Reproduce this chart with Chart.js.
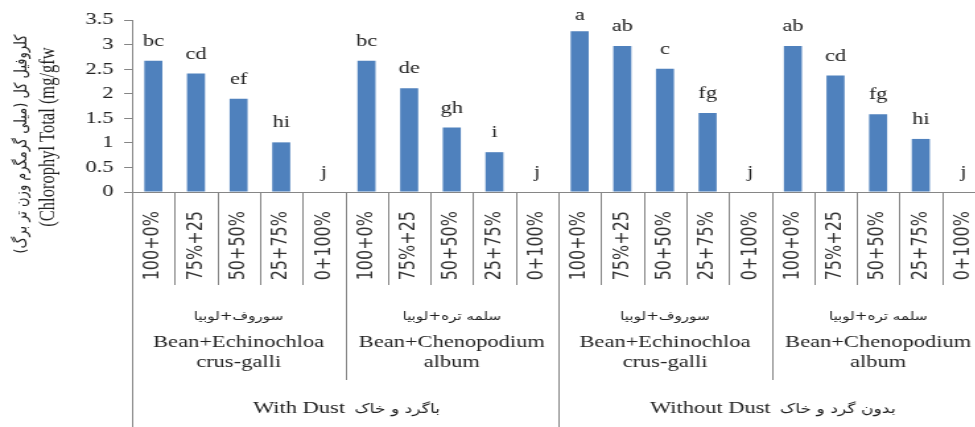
<!DOCTYPE html>
<html>
<head>
<meta charset="utf-8">
<script src="https://cdn.jsdelivr.net/npm/chart.js@4/dist/chart.umd.min.js"></script>
<style>
  html, body { margin: 0; padding: 0; background: #fff; overflow: hidden; width: 975px; height: 427px; }
  /* the drawing surface is widened horizontally, giving the broad lettering of the figure */
  #wrap { position: absolute; left: 0; top: 0; width: 746px; height: 427px; transform: scaleX(1.32); transform-origin: 0 0; }
</style>
</head>
<body>
<div id="wrap"><canvas id="c"></canvas></div>
<script>
// Mixture ratios (bean + weed) shown on every bar
const treatments = ['100+0%', '75%+25', '50+50%', '25+75%', '0+100%'];

// Weed pair labels (Persian line, then the two English lines)
const weedPairsFa = ['سوروف+لوبیا', 'سلمه تره+لوبیا'];
const weedPairsEn = [['Bean+Echinochloa', 'crus-galli'], ['Bean+Chenopodium', 'album']];

// Dust condition labels
const dustEn = ['With Dust', 'Without Dust'];
const dustFa = ['باگرد و خاک', 'بدون گرد و خاک'];

// Total chlorophyll (mg/g fresh weight)
const dustEchinochloa   = [2.67, 2.41, 1.90, 1.01, 0];
const dustChenopodium   = [2.67, 2.11, 1.31, 0.81, 0];
const cleanEchinochloa  = [3.27, 2.97, 2.51, 1.61, 0];
const cleanChenopodium  = [2.97, 2.37, 1.58, 1.08, 0];

// Mean separation letters
const dustEchinochloaLetters  = ['bc', 'cd', 'ef', 'hi', 'j'];
const dustChenopodiumLetters  = ['bc', 'de', 'gh', 'i', 'j'];
const cleanEchinochloaLetters = ['a', 'ab', 'c', 'fg', 'j'];
const cleanChenopodiumLetters = ['ab', 'cd', 'fg', 'hi', 'j'];

// Value axis ticks
const yTickValues = [0, 0.5, 1, 1.5, 2, 2.5, 3, 3.5];
const yTickLabels = ['0', '0.5', '1', '1.5', '2', '2.5', '3', '3.5'];

// Axis titles
const yTitleFa = 'کلروفیل کل (میلی گرمگرم وزن تر برگ)';
const yTitleEn = '(Chlorophyl Total (mg/gfw';

const labels = [...treatments, ...treatments, ...treatments, ...treatments];
const values = [...dustEchinochloa, ...dustChenopodium, ...cleanEchinochloa, ...cleanChenopodium];
const letters = [...dustEchinochloaLetters, ...dustChenopodiumLetters, ...cleanEchinochloaLetters, ...cleanChenopodiumLetters];

const SERIF = "'Liberation Serif', 'Times New Roman', serif";
const FA = "'DejaVu Sans', sans-serif";
const LINE = '#868686';
const INK = '#222';

// split a Persian label into words and separators
function tokens(t) { return t.split(/([ +()])/).filter(s => s.length); }

// words laid out from right to left, brackets mirrored
function wordsRightToLeft(t) {
  const swap = { '(': ')', ')': '(' };
  return tokens(t).reverse().map(s => swap[s] || s);
}

function tokenWidth(ctx, list) {
  return list.reduce((w, s) => w + ctx.measureText(s).width, 0);
}

// draws the tokens centred on (cx, cy), left to right
function drawTokens(ctx, list, cx, cy) {
  let x = cx - tokenWidth(ctx, list) / 2;
  ctx.textAlign = 'left';
  for (const s of list) {
    ctx.fillText(s, x, cy);
    x += ctx.measureText(s).width;
  }
  ctx.textAlign = 'center';
}

const letterLabels = {
  id: 'letterLabels',
  afterDatasetsDraw(chart) {
    const ctx = chart.ctx;
    const meta = chart.getDatasetMeta(0);
    ctx.save();
    ctx.fillStyle = INK;
    ctx.font = '17px ' + SERIF;
    ctx.textAlign = 'center';
    ctx.textBaseline = 'alphabetic';
    meta.data.forEach((bar, i) => {
      const y = Math.max(bar.y - 15, 20);
      ctx.fillText(letters[i], bar.x, y);
    });
    ctx.restore();
  }
};

const groupAxis = {
  id: 'groupAxis',
  afterDraw(chart) {
    const { ctx, chartArea: a } = chart;
    const n = labels.length;
    const cw = (a.right - a.left) / n;
    const bx = k => a.left + k * cw;
    ctx.save();
    // separators of the category levels
    ctx.strokeStyle = LINE;
    ctx.lineWidth = 1;
    for (let k = 0; k <= n; k++) {
      let y1 = 285;
      if (k % 5 === 0) y1 = 380;
      if (k % 10 === 0) y1 = 427;
      const x = Math.round(bx(k)) + 0.5;
      ctx.beginPath();
      ctx.moveTo(x, a.bottom);
      ctx.lineTo(x, y1);
      ctx.stroke();
    }
    ctx.fillStyle = INK;
    ctx.textBaseline = 'middle';
    ctx.textAlign = 'center';
    // weed pair level
    for (let g = 0; g < 4; g++) {
      const cx = bx(g * 5 + 2.5);
      ctx.font = '11.5px ' + FA;
      drawTokens(ctx, wordsRightToLeft(weedPairsFa[g % 2]), cx, 317);
      ctx.font = '17px ' + SERIF;
      ctx.fillText(weedPairsEn[g % 2][0], cx, 343);
      ctx.fillText(weedPairsEn[g % 2][1], cx, 363);
    }
    // dust level
    for (let m = 0; m < 2; m++) {
      const cx = bx(m * 10 + 5) + 1;
      ctx.font = '17px ' + SERIF;
      const wE = ctx.measureText(dustEn[m]).width;
      ctx.font = '13px ' + FA;
      const fa = wordsRightToLeft(dustFa[m]);
      const wF = tokenWidth(ctx, fa);
      const gap = 7;
      const x0 = cx - (wE + gap + wF) / 2;
      ctx.textAlign = 'left';
      ctx.font = '17px ' + SERIF;
      ctx.fillText(dustEn[m], x0, 409);
      ctx.font = '13px ' + FA;
      drawTokens(ctx, fa, x0 + wE + gap + wF / 2, 410);
    }
    // value axis title, two rotated lines
    ctx.textAlign = 'center';
    ctx.save();
    ctx.translate(16.7, 144);
    ctx.rotate(-Math.PI / 2);
    ctx.font = '13px ' + FA;
    drawTokens(ctx, wordsRightToLeft(yTitleFa), 0, 0);
    ctx.restore();
    ctx.save();
    ctx.translate(36.5, 137);
    ctx.rotate(-Math.PI / 2);
    ctx.font = '16.5px ' + SERIF;
    ctx.fillText(yTitleEn, 0, 0);
    ctx.restore();
    ctx.restore();
  }
};

new Chart(document.getElementById('c'), {
  type: 'bar',
  data: {
    labels: labels,
    datasets: [{
      data: values,
      backgroundColor: '#4F81BD',
      borderWidth: 0,
      barPercentage: 0.423,
      categoryPercentage: 1
    }]
  },
  options: {
    responsive: true,
    maintainAspectRatio: false,
    animation: false,
    layout: { padding: { top: 20, left: 0, right: 0, bottom: 0 } },
    plugins: { legend: { display: false }, tooltip: { enabled: false } },
    scales: {
      x: {
        grid: { display: false, drawTicks: false },
        border: { display: true, color: LINE },
        ticks: {
          autoSkip: false, minRotation: 90, maxRotation: 90, padding: 19,
          color: '#333', font: { family: "'DejaVu Sans'", size: 16 }
        },
        afterFit(s) { s.height = 235; s.paddingLeft = 0; s.paddingRight = 0; }
      },
      y: {
        min: 0, max: 3.5,
        grid: { drawOnChartArea: false, drawTicks: true, tickLength: 6, color: LINE },
        border: { display: true, color: LINE },
        ticks: {
          padding: 8, color: INK, font: { family: SERIF, size: 17 },
          callback: (v, i) => yTickLabels[i]
        },
        afterBuildTicks(s) { s.ticks = yTickValues.map(v => ({ value: v })); },
        afterFit(s) { s.width = 100; }
      }
    }
  },
  plugins: [letterLabels, groupAxis]
});
</script>
</body>
</html>
